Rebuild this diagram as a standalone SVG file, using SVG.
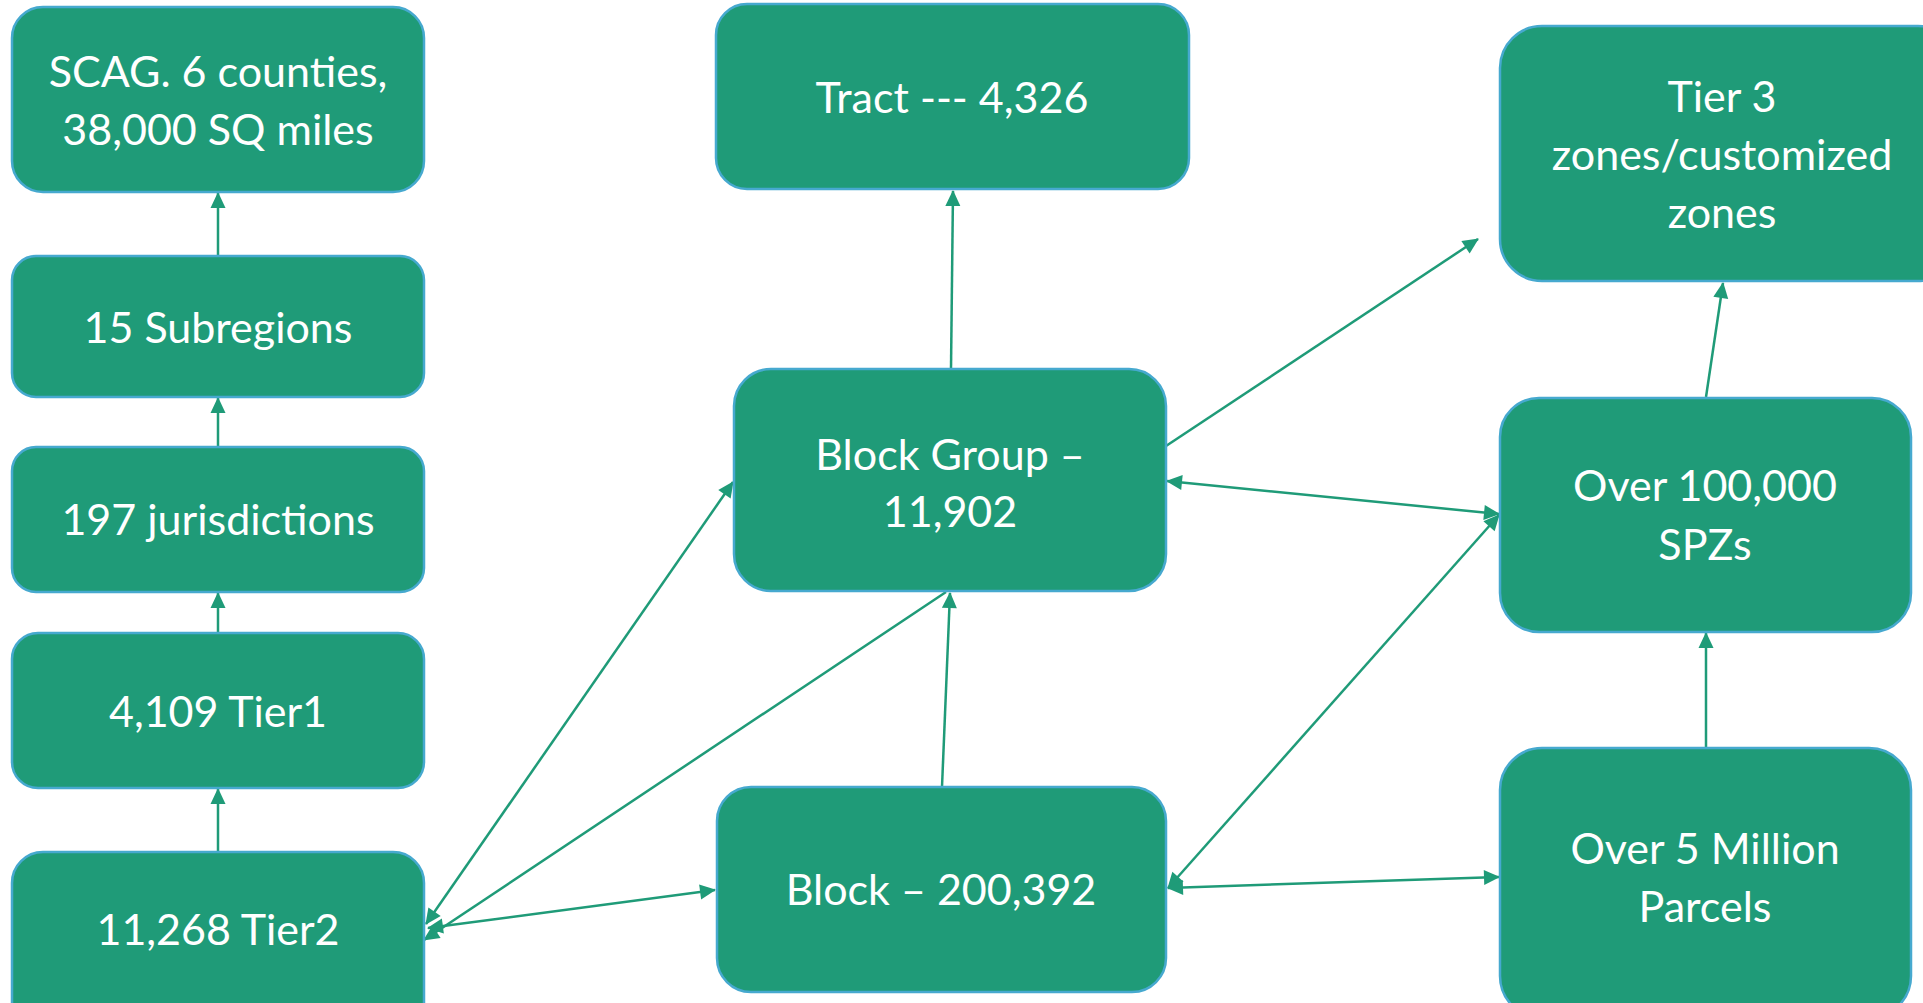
<svg xmlns="http://www.w3.org/2000/svg" width="1923" height="1003" viewBox="0 0 1923 1003">
<defs>
<style>
.box{fill:#1F9B78;stroke:#46A9CF;stroke-width:2.5}
.t{fill:#ffffff;font-family:Lato,"Open Sans","Liberation Sans",sans-serif;font-size:43px;text-anchor:middle}
.c{stroke:#1F9B78;stroke-width:2.5;fill:none}
.e{marker-end:url(#ah)}
.d{marker-start:url(#ah);marker-end:url(#ah)}
</style>
<marker id="ah" markerUnits="userSpaceOnUse" markerWidth="17" markerHeight="16" refX="15" refY="7.5" orient="auto-start-reverse" overflow="visible">
<path d="M0,0 L16,7.5 L0,15 z" fill="#1F9B78"/>
</marker>
</defs>
<rect width="1923" height="1003" fill="#ffffff"/>
<g id="connectors">
<line class="c e" x1="218" y1="256" x2="218" y2="193"/>
<line class="c e" x1="218" y1="447" x2="218" y2="398"/>
<line class="c e" x1="218" y1="633" x2="218" y2="593"/>
<line class="c e" x1="218" y1="852" x2="218" y2="789"/>
<line class="c e" x1="951" y1="369" x2="953" y2="191"/>
<line class="c e" x1="942" y1="787" x2="950" y2="593"/>
<line class="c e" x1="1166" y1="446" x2="1478" y2="239"/>
<line class="c d" x1="1167" y1="481" x2="1499" y2="514"/>
<line class="c d" x1="1168" y1="888" x2="1499" y2="515"/>
<line class="c d" x1="1168" y1="888" x2="1499" y2="877"/>
<line class="c e" x1="1706" y1="748" x2="1706" y2="633"/>
<line class="c e" x1="1706" y1="397" x2="1723" y2="283"/>
<line class="c d" x1="426" y1="924" x2="733" y2="482"/>
<line class="c e" x1="946" y1="592" x2="424" y2="940"/>
<line class="c d" x1="428" y1="928" x2="715" y2="890"/>
</g>
<g id="n-scag">
<rect class="box" x="12" y="7" width="412" height="185" rx="31"/>
<text class="t" x="218" y="87">SCAG. 6 counties,</text>
<text class="t" x="218" y="145">38,000 SQ miles</text>
</g>
<g id="n-subregions">
<rect class="box" x="12" y="256" width="412" height="141" rx="24"/>
<text class="t" x="218" y="343">15 Subregions</text>
</g>
<g id="n-jurisdictions">
<rect class="box" x="12" y="447" width="412" height="145" rx="24"/>
<text class="t" x="218" y="535">197 jurisdictions</text>
</g>
<g id="n-tier1">
<rect class="box" x="12" y="633" width="412" height="155" rx="26"/>
<text class="t" x="218" y="727">4,109 Tier1</text>
</g>
<g id="n-tier2">
<rect class="box" x="12" y="852" width="412" height="185" rx="31"/>
<text class="t" x="218" y="945">11,268 Tier2</text>
</g>
<g id="n-tract">
<rect class="box" x="716" y="4" width="473" height="185" rx="31"/>
<text class="t" x="952" y="113">Tract --- 4,326</text>
</g>
<g id="n-blockgroup">
<rect class="box" x="734" y="369" width="432" height="222" rx="37"/>
<text class="t" x="950" y="470">Block Group –</text>
<text class="t" x="950" y="527">11,902</text>
</g>
<g id="n-block">
<rect class="box" x="717" y="787" width="449" height="205" rx="34"/>
<text class="t" x="941" y="905">Block – 200,392</text>
</g>
<g id="n-tier3">
<rect class="box" x="1500" y="26" width="460" height="255" rx="42"/>
<text class="t" x="1722" y="112">Tier 3</text>
<text class="t" x="1722" y="170">zones/customized</text>
<text class="t" x="1722" y="228">zones</text>
</g>
<g id="n-spz">
<rect class="box" x="1500" y="398" width="411" height="234" rx="39"/>
<text class="t" x="1705" y="501">Over 100,000</text>
<text class="t" x="1705" y="560">SPZs</text>
</g>
<g id="n-parcels">
<rect class="box" x="1500" y="748" width="411" height="270" rx="42"/>
<text class="t" x="1705" y="864">Over 5 Million</text>
<text class="t" x="1705" y="922">Parcels</text>
</g>
</svg>
